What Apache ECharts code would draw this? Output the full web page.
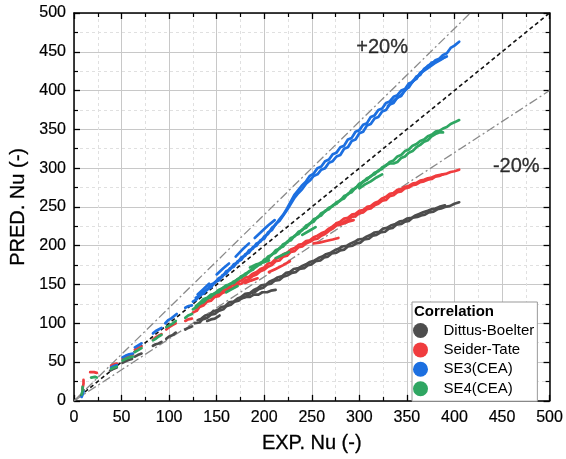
<!DOCTYPE html>
<html><head><meta charset="utf-8">
<script src="https://cdn.jsdelivr.net/npm/echarts@6/dist/echarts.min.js"></script>
<style>html,body{margin:0;padding:0;background:#fff}#c{width:566px;height:459px}</style>
</head><body><div id="c"></div>
<script>
// Tick labels
const xTicks = [0,50,100,150,200,250,300,350,400,450,500];
const yTicks = [0,50,100,150,200,250,300,350,400,450,500];
const names = ['Dittus-Boelter','Seider-Tate','SE3(CEA)','SE4(CEA)'];

// Reference lines (EXP, PRED pairs)
const parity = [[0,0],[500,500]];
const plus20 = [[0,0],[416.7,500]];
const minus20 = [[0,0],[500,400]];

// Each segment: flat list EXP, PRED, EXP, PRED, ...
const dittus = [
 [8,8, 9,11, 10,14],
 [38,39, 41,41, 45,43],
 [51,49, 54,51, 58,53, 61,54],
 [64,57, 67,59, 71,61],
 [83,71, 86,73, 89,74, 92,76],
 [97,80, 100,83, 104,85, 107,88],
 [117,92, 120,94, 124,96],
 [127,100, 132,101, 135,105, 140,107, 144,111, 148,112, 152,116, 157,118, 160,122, 165,124, 169,128, 173,129, 177,133, 182,135, 186,139, 190,140, 194,144, 199,146, 203,150, 207,151, 211,155, 216,156, 220,160, 225,162, 229,165, 233,166, 237,170, 242,171, 246,175, 250,176, 254,180, 259,181, 263,185, 267,186, 271,190, 276,191, 280,194, 284,195, 288,199, 293,200, 297,203, 301,204, 305,208, 310,209, 314,213, 318,214, 322,217, 327,218, 331,222, 335,223, 339,227, 344,228, 348,231, 352,232, 356,236, 361,237, 365,239, 369,240, 373,243, 378,244, 382,247, 386,248, 390,250, 395,251, 400,254, 405,256],
 [130,104, 134,106, 138,110, 142,111, 146,115, 151,117, 155,121, 159,122, 163,127, 168,128, 172,132, 176,134, 180,138, 185,139, 189,143, 193,145, 197,149, 202,150, 206,154, 210,156, 214,159, 219,161, 223,165, 227,166, 231,170, 236,171, 240,174, 244,176, 248,179, 253,181, 257,184, 261,186, 265,189, 270,191, 274,194, 278,196, 282,199, 287,200, 291,203, 295,205, 299,208, 304,209, 308,212, 312,214, 316,217, 321,218, 325,222, 329,223, 333,226, 338,228, 342,231, 346,232, 350,235, 355,236, 359,239, 363,241, 367,243, 372,245, 376,247, 380,248, 384,250, 390,252],
 [140,103, 144,105, 148,106, 153,110],
 [176,132, 181,134, 185,134, 189,137, 194,137, 198,140, 203,140, 207,142, 212,143]
];

const seider = [
 [9,10, 9,16, 10,22, 10,27],
 [17,37, 19,38, 21,37, 24,36],
 [39,45, 42,47, 45,48],
 [51,54, 54,56, 58,58, 62,60],
 [64,66, 67,68, 71,70],
 [83,79, 86,82, 89,84, 92,86],
 [97,92, 100,95, 104,98, 107,100],
 [117,103, 120,105, 124,106],
 [125,114, 129,116, 132,121, 136,123, 140,128, 144,129, 148,134, 152,135, 156,139, 160,141, 164,145, 168,146, 172,150, 176,151, 180,155, 184,157, 188,161, 192,163, 196,167, 200,169, 204,173, 208,175, 212,180, 216,181, 220,186, 224,187, 228,192, 232,193, 236,198, 240,199, 244,203, 248,205, 252,208, 256,209, 260,213, 264,215, 268,219, 272,222, 276,226, 280,227, 284,231, 288,233, 292,237, 296,238, 300,242, 304,243, 308,247, 312,248, 316,252, 320,254, 324,258, 328,259, 332,264, 336,265, 340,269, 344,270, 348,274, 352,275, 356,278, 360,279, 364,282, 368,283, 372,285, 376,286, 380,289, 384,290, 388,292, 392,293, 396,295, 400,296, 405,298],
 [128,119, 132,124, 136,126, 140,131, 144,133, 148,137, 152,138, 156,142, 160,144, 164,148, 168,149, 172,153, 176,155, 180,159, 184,160, 188,164, 192,166, 196,170, 200,172, 204,177, 208,178, 212,183, 216,185, 220,189, 224,191, 228,195, 232,197, 236,201, 240,202, 244,206, 248,207, 252,211, 256,213, 260,216, 264,218, 268,222, 272,225, 276,229, 280,231, 284,235, 288,236, 292,240, 296,241, 300,245, 304,246, 308,250, 312,251, 316,255, 320,257, 324,261, 328,263, 332,267, 336,268, 340,272, 344,273, 348,276, 352,277, 356,280, 360,281, 364,284, 368,285, 372,287, 376,288, 380,290, 384,291, 388,292],
 [180,152, 186,155, 193,158],
 [205,166, 212,170, 220,175, 227,180],
 [252,203, 258,204, 265,206, 272,208, 278,210],
 [276,229, 282,228, 288,231, 294,233]
];

const se3 = [
 [8,5, 9,8, 10,12],
 [39,43, 42,45, 45,46],
 [51,56, 54,58, 58,60, 62,61],
 [64,69, 67,71, 71,74],
 [83,87, 86,90, 89,92, 92,94],
 [96,100, 99,104, 102,106, 105,109, 108,112],
 [117,120, 120,122, 124,123],
 [125,128, 129,131, 132,136, 136,138, 140,144, 144,146, 148,153, 152,155, 156,162, 160,164, 164,171, 168,173, 172,180, 176,182, 180,189, 184,191, 188,198, 192,200, 196,207, 200,209, 204,217, 208,220, 212,228, 216,232, 220,239, 224,246, 228,254, 232,262, 236,268, 240,273, 244,280, 248,284, 252,290, 256,292, 260,298, 264,300, 268,307, 272,309, 276,315, 280,317, 284,325, 288,327, 292,335, 296,337, 300,345, 304,347, 308,355, 312,357, 316,364, 320,366, 324,373, 328,375, 332,382, 336,384, 340,391, 344,393, 348,401, 352,404, 356,412, 360,415, 364,423, 368,426, 372,432, 376,434, 380,439, 384,441, 388,446, 392,448, 396,455, 400,458, 405,463],
 [128,133, 132,135, 136,141, 140,143, 144,150, 148,152, 152,158, 156,160, 160,167, 164,169, 168,176, 172,178, 176,185, 180,187, 184,194, 188,196, 192,203, 196,205, 200,212, 204,215, 208,223, 212,227, 216,234, 220,240, 224,248, 228,257, 232,266, 236,272, 240,278, 244,283, 248,290, 252,293, 256,300, 260,302, 264,309, 268,311, 272,318, 276,320, 280,327, 284,329, 288,337, 292,339, 296,347, 300,349, 304,356, 308,358, 312,366, 316,368, 320,375, 324,377, 328,384, 332,386, 336,392, 340,394, 344,400, 348,402, 352,409, 356,411, 360,418, 364,420, 368,428, 372,431, 376,436, 380,437, 384,440, 388,442, 392,444],
 [130,137, 136,144, 142,151],
 [150,163, 157,171, 163,177],
 [170,186, 177,195, 184,203],
 [190,210, 197,218, 204,226, 211,233],
 [330,380, 337,388, 344,394, 351,404, 358,414, 365,423, 372,429, 379,435, 386,440, 390,443]
];

const se4 = [
 [8,8, 9,13, 9,18],
 [18,30, 20,32, 22,31, 24,30],
 [39,41, 42,43, 45,44],
 [51,52, 54,54, 58,56, 62,57],
 [64,63, 67,65, 71,68],
 [83,78, 86,80, 89,83, 92,85],
 [97,95, 100,97, 104,100, 107,103],
 [117,107, 120,110, 124,112],
 [125,118, 129,121, 132,125, 136,127, 140,132, 144,134, 148,139, 152,140, 156,145, 160,147, 164,151, 168,152, 172,157, 176,159, 180,164, 184,166, 188,171, 192,173, 196,178, 200,180, 204,186, 208,188, 212,194, 216,196, 220,202, 224,204, 228,210, 232,212, 236,218, 240,220, 244,226, 248,228, 252,234, 256,236, 260,242, 264,244, 268,249, 272,251, 276,256, 280,258, 284,264, 288,266, 292,272, 296,274, 300,280, 304,282, 308,287, 312,289, 316,294, 320,296, 324,301, 328,303, 332,308, 336,310, 340,315, 344,317, 348,322, 352,324, 356,329, 360,331, 364,335, 368,337, 372,341, 376,343, 380,347, 384,348, 388,351, 392,353, 396,357, 400,359, 405,362],
 [128,122, 132,126, 136,131, 140,133, 144,137, 148,138, 152,143, 156,145, 160,149, 164,150, 168,154, 172,156, 176,161, 180,162, 184,167, 188,169, 192,174, 196,176, 200,182, 204,183, 208,189, 212,191, 216,197, 220,199, 224,205, 228,207, 232,213, 236,215, 240,221, 244,223, 248,229, 252,231, 256,237, 260,239, 264,245, 268,247, 272,252, 276,254, 280,259, 284,261, 288,267, 292,269, 296,275, 300,277, 304,283, 308,285, 312,290, 316,292, 320,297, 324,299, 328,304, 332,306, 336,306, 340,308, 344,313, 348,315, 352,320, 356,322, 360,327, 364,330, 368,334, 372,336, 376,341, 380,344, 384,346, 388,346],
 [160,140, 166,144, 172,148],
 [185,172, 192,176, 198,178, 205,181],
 [212,184, 219,188, 226,192],
 [240,214, 247,219, 254,224],
 [300,274, 306,279, 312,283, 318,288, 324,292]
];

const groups = [dittus, seider, se3, se4];
const colors = ['#4d4d4d','#f03c3e','#1c6fe0','#2fa662'];

function toPairs(flat) {
  const out = [];
  for (let i = 0; i < flat.length; i += 2) out.push([flat[i], flat[i + 1]]);
  return out;
}

const chart = echarts.init(document.getElementById('c'), null, {renderer:'canvas'});
const series = [];
const gridLineStyle = {color:'#c8c8c8', width:1};

series.push({type:'line', data: parity, showSymbol:false, silent:true, z:3,
  lineStyle:{color:'#111', width:1.6, type:[4,3]}});
series.push({type:'line', data: plus20, showSymbol:false, silent:true, z:3,
  lineStyle:{color:'#8a8a8a', width:1.3, type:[9,3,2,3]}});
series.push({type:'line', data: minus20, showSymbol:false, silent:true, z:3,
  lineStyle:{color:'#8a8a8a', width:1.3, type:[9,3,2,3]}});

groups.forEach((segs, gi) => {
  segs.forEach(seg => {
    series.push({type:'line', name: names[gi], data: toPairs(seg), showSymbol:false, silent:true,
      z:4, color: colors[gi], lineStyle:{color: colors[gi], width:2.7, join:'round', cap:'round'}});
  });
});

const annText = {fontSize:20, color:'#000', fontFamily:'Liberation Sans', textBorderColor:'#000', textBorderWidth:0.3};
series.push({type:'scatter', data:[[324,456]], symbolSize:0, silent:true, z:5,
  label:Object.assign({show:true, position:'inside', formatter:'+20%'}, annText)});
series.push({type:'scatter', data:[[465,302]], symbolSize:0, silent:true, z:5,
  label:Object.assign({show:true, position:'inside', formatter:'-20%'}, annText)});

const axisCommon = {
  type:'value', min:0, max:500, interval:50,
  axisLine:{show:true, onZero:false, lineStyle:{color:'#000', width:1.5}},
  axisTick:{show:true, inside:true, length:6, lineStyle:{color:'#000', width:1.3}},
  minorTick:{show:true, splitNumber:2, length:4, lineStyle:{color:'#000', width:1.2}},
};
const tickText = {fontSize:16, color:'#000', fontFamily:'Liberation Sans', textBorderColor:'#000', textBorderWidth:0.2};

chart.setOption({
  animation:false,
  backgroundColor:'#fff',
  textStyle:{fontFamily:'Liberation Sans'},
  grid:{left:69, right:15, top:13, bottom:57},
  title:{text:'Correlation', left:414, top:304, padding:0,
    textStyle:{fontSize:15, fontWeight:'bold', color:'#000', fontFamily:'Liberation Sans'}},
  legend:{
    data: names.map(n => ({name:n, icon:'circle'})),
    orient:'vertical', left:412, top:302,
    padding:[21,3,5,1], itemWidth:36, itemHeight:15, itemGap:4.4,
    backgroundColor:'#fff', borderColor:'#999', borderWidth:1, borderRadius:0,
    textStyle:{fontSize:15, color:'#000', fontFamily:'Liberation Sans'},
    selectedMode:false
  },
  xAxis:[
    Object.assign({}, axisCommon, {position:'bottom',
      axisLabel:Object.assign({show:true, margin:9,
        formatter: v => xTicks.includes(v) ? String(v) : ''}, tickText),
      splitLine:{show:true, lineStyle:gridLineStyle},
      minorSplitLine:{show:true, lineStyle:{color:'#e0e0e0', width:1, type:[3,3]}},
      name:'EXP. Nu (-)', nameLocation:'middle', nameGap:33,
      nameTextStyle:{fontSize:20, color:'#000', fontFamily:'Liberation Sans', textBorderColor:'#000', textBorderWidth:0.3}}),
    Object.assign({}, axisCommon, {position:'top', axisLabel:{show:false}, splitLine:{show:false}})
  ],
  yAxis:[
    Object.assign({}, axisCommon, {position:'left',
      axisLabel:Object.assign({show:true, margin:8,
        formatter: v => yTicks.includes(v) ? String(v) : ''}, tickText),
      splitLine:{show:true, lineStyle:gridLineStyle},
      minorSplitLine:{show:true, lineStyle:{color:'#e0e0e0', width:1, type:[3,3]}},
      name:'PRED. Nu (-)', nameLocation:'middle', nameGap:40,
      nameTextStyle:{fontSize:20, color:'#000', fontFamily:'Liberation Sans', textBorderColor:'#000', textBorderWidth:0.3}}),
    Object.assign({}, axisCommon, {position:'right', axisLabel:{show:false}, splitLine:{show:false}})
  ],
  series: series
});
</script></body></html>
